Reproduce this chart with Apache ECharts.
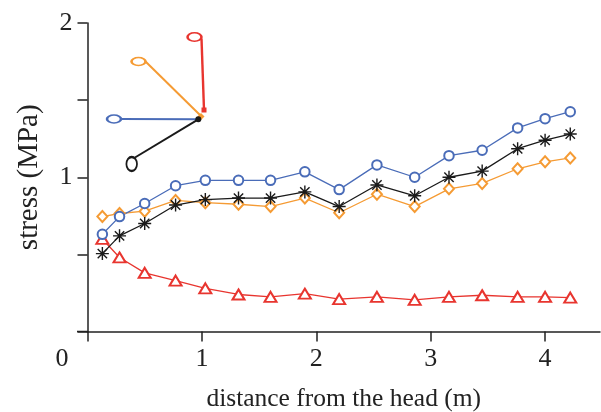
<!DOCTYPE html>
<html>
<head>
<meta charset="utf-8">
<script src="https://cdn.jsdelivr.net/npm/echarts@6/dist/echarts.min.js"></script>
<style>html,body{margin:0;padding:0;background:#fff;}#c{width:601px;height:412px;}</style>
</head>
<body>
<div id="c"></div>
<script>
const distance = [0.13, 0.28, 0.50, 0.77, 1.03, 1.32, 1.60, 1.90, 2.20, 2.53, 2.86, 3.16, 3.45, 3.76, 4.00, 4.22];
const blueStress   = [0.63, 0.745, 0.83, 0.945, 0.98, 0.98, 0.98, 1.035, 0.92, 1.08, 1.00, 1.14, 1.175, 1.32, 1.38, 1.425];
const blackStress  = [0.505, 0.62, 0.70, 0.82, 0.855, 0.865, 0.865, 0.905, 0.81, 0.95, 0.88, 1.00, 1.04, 1.185, 1.24, 1.28];
const orangeStress = [0.745, 0.765, 0.78, 0.85, 0.835, 0.825, 0.81, 0.865, 0.77, 0.89, 0.81, 0.925, 0.96, 1.055, 1.10, 1.125];
const redStress    = [0.60, 0.48, 0.38, 0.33, 0.28, 0.24, 0.225, 0.245, 0.21, 0.225, 0.205, 0.225, 0.235, 0.225, 0.225, 0.22];
const xTicks = [0, 1, 2, 3, 4];
const yTicks = [0, 0.5, 1, 1.5, 2];
const yLabels = [1, 2];

const BLUE = '#4a6cb8', ORANGE = '#f59b34', RED = '#e8352f', BLACK = '#1a1a1a';
const FONT = 'Liberation Serif';
const pairs = ys => distance.map((x, i) => [x, ys[i]]);
const star = 'path://M0,-1L0,1M-1,0L1,0M-0.72,-0.72L0.72,0.72M-0.72,0.72L0.72,-0.72';

function ser(name, ys, color, symbol, size) {
  const isStar = symbol === star;
  return {
    name, type: 'line', data: pairs(ys), symbol, symbolSize: size,
    lineStyle: { color, width: 1.3 },
    itemStyle: isStar ? { color: 'none', borderColor: color, borderWidth: 1.4 }
                      : { color: color, borderWidth: 1.4 },
    emphasis: { disabled: true }, animation: false
  };
}

function ell(cx, cy, rx, ry, color) {
  return { type: 'circle', x: cx, y: cy, scaleX: rx, scaleY: ry, shape: { cx: 0, cy: 0, r: 1 },
    style: { fill: 'none', stroke: color, lineWidth: 2, strokeNoScale: true }, z: 100 };
}
function seg(x1, y1, x2, y2, color, w) {
  return { type: 'line', shape: { x1, y1, x2, y2 }, style: { stroke: color, lineWidth: w || 2 }, z: 100 };
}

const chart = echarts.init(document.getElementById('c'), null, { renderer: 'canvas' });
chart.setOption({
  animation: false,
  grid: { left: 87.5, top: 23, right: 1, bottom: 80.5, containLabel: false, outerBoundsMode: 'none' },
  xAxis: {
    type: 'value', min: 0, max: 4.48, interval: 1,
    name: 'distance from the head (m)', nameLocation: 'middle', nameGap: 55,
    nameTextStyle: { fontFamily: FONT, fontSize: 25.5, color: '#222' },
    axisLine: { show: true, onZero: false, lineStyle: { color: '#222', width: 1.5 } },
    axisTick: { show: true, inside: false, length: 10, customValues: xTicks, lineStyle: { color: '#222', width: 1.5 } },
    axisLabel: {
      customValues: xTicks, margin: 15, fontFamily: FONT, fontSize: 26, color: '#222',
      formatter: v => v === 0 ? '{z|0}' : String(v),
      rich: { z: { fontFamily: FONT, fontSize: 26, color: '#222', padding: [0, 51, 0, 0] } }
    },
    splitLine: { show: false }
  },
  yAxis: {
    type: 'value', min: 0, max: 2, interval: 0.5,
    name: 'stress (MPa)', nameLocation: 'middle', nameGap: 44,
    nameTextStyle: { fontFamily: FONT, fontSize: 29, color: '#222' },
    axisLine: { show: true, lineStyle: { color: '#222', width: 1.5 } },
    axisTick: { show: true, length: 10, customValues: yTicks, lineStyle: { color: '#222', width: 1.5 } },
    axisLabel: { customValues: yLabels, margin: 15, fontFamily: FONT, fontSize: 26, color: '#222' },
    splitLine: { show: false }
  },
  series: [
    ser('red', redStress, RED, 'emptyTriangle', [12, 10]),
    ser('orange', orangeStress, ORANGE, 'emptyDiamond', [10, 11]),
    ser('black', blackStress, BLACK, star, 13),
    ser('blue', blueStress, BLUE, 'emptyCircle', 9.5)
  ],
  graphic: [
    { type: 'line', shape: { x1: 77, y1: 331.5, x2: 88, y2: 331.5 }, style: { stroke: '#222', lineWidth: 1.5 }, z: 50 },
    seg(121, 119, 198.3, 119.3, BLUE),
    ell(114, 119, 7, 4, BLUE),
    seg(145.5, 61.5, 201, 116, ORANGE),
    ell(138.5, 61.5, 7, 4, ORANGE),
    seg(201.5, 38.5, 204, 110, RED, 2.4),
    ell(194.5, 37, 7, 4.3, RED),
    seg(135, 157.5, 198.3, 119.3, BLACK),
    ell(131.7, 164, 5.3, 7, BLACK),
    { type: 'rect', shape: { x: 201.5, y: 107.5, width: 5, height: 5 }, style: { fill: RED }, z: 101 },
    { type: 'rect', shape: { x: -2.5, y: -2.5, width: 5, height: 5 }, x: 201, y: 116.5, rotation: Math.PI / 4, style: { fill: ORANGE }, z: 102 },
    { type: 'circle', shape: { cx: 198.3, cy: 119.3, r: 3 }, style: { fill: BLACK }, z: 103 }
  ]
});
</script>
</body>
</html>
